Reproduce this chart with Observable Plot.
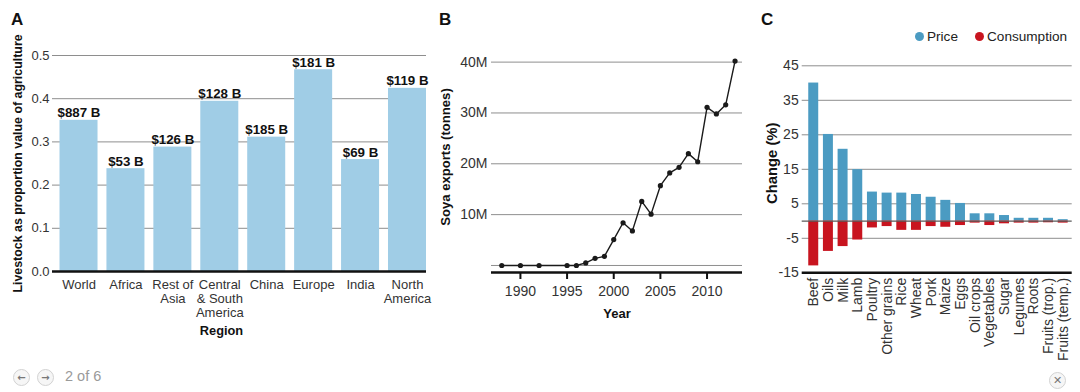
<!DOCTYPE html>
<html>
<head>
<meta charset="utf-8">
<script src="https://cdn.jsdelivr.net/npm/d3@7"></script>
<script src="https://cdn.jsdelivr.net/npm/@observablehq/plot@0.6"></script>
<style>
  html, body { margin: 0; padding: 0; background: #fff; }
  body { width: 1080px; height: 392px; overflow: hidden; position: relative;
         font-family: "Liberation Sans", Arial, sans-serif; }
  .panel { position: absolute; top: 0; }
  .panel svg { overflow: visible; }
  .letter { position: absolute; top: 10px; font: bold 17px "Liberation Sans", Arial, sans-serif; color: #111; }
  .legend { position: absolute; top: 29px; font-size: 13.6px; color: #222; white-space: nowrap; }
  .legend span.sw { display: inline-block; width: 9px; height: 9px; border-radius: 50%; margin-right: 3px; vertical-align: 0px; }
  .btn { position: absolute; width: 15px; height: 15px; border-radius: 50%; border: 1.5px solid #d2d2d2; background: #f6f6f6;
         color: #777; font: bold 10px "DejaVu Sans", sans-serif; text-align: center; line-height: 15px; }
  .pager { position: absolute; left: 65px; top: 368px; font: 14.5px "Liberation Sans", Arial, sans-serif; color: #9a9a9a; }
</style>
</head>
<body>
<div class="letter" style="left:11px">A</div>
<div class="letter" style="left:439px">B</div>
<div class="letter" style="left:761px">C</div>
<div id="chartA" class="panel" style="left:0px"></div>
<div id="chartB" class="panel" style="left:430px"></div>
<div id="chartC" class="panel" style="left:760px"></div>
<div id="legendC"></div>
<div class="btn" style="left:13px;top:369px">&#x2190;</div>
<div class="btn" style="left:37px;top:369px">&#x2192;</div>
<div class="pager">2 of 6</div>
<div class="btn" style="left:1049px;top:372px;font-size:11px">&#x2715;</div>
<script>
// ---------- Panel A data ----------
const regions = ["World", "Africa", "Rest of Asia", "Central & South America", "China", "Europe", "India", "North America"];
const regionTickLabels = ["World", "Africa", "Rest of\nAsia", "Central\n& South\nAmerica", "China", "Europe", "India", "North\nAmerica"];
const livestockShare = [0.350, 0.238, 0.288, 0.394, 0.311, 0.467, 0.259, 0.424];
const livestockValue = ["$887 B", "$53 B", "$126 B", "$128 B", "$185 B", "$181 B", "$69 B", "$119 B"];
const shareTicks = [0, 0.1, 0.2, 0.3, 0.4, 0.5];
const titleAx = "Region";
const titleAy = "Livestock as proportion value of agriculture";

// ---------- Panel B data ----------
const years = [1988, 1990, 1992, 1995, 1996, 1997, 1998, 1999, 2000, 2001, 2002, 2003, 2004, 2005, 2006, 2007, 2008, 2009, 2010, 2011, 2012, 2013];
const soyaExports = [0, 0, 0, 0, 0, 0.5e6, 1.4e6, 1.8e6, 5.1e6, 8.4e6, 6.8e6, 12.6e6, 10.1e6, 15.7e6, 18.2e6, 19.3e6, 22.0e6, 20.4e6, 31.1e6, 29.8e6, 31.6e6, 40.2e6];
const soyaGrid = [0, 10e6, 20e6, 30e6, 40e6];
const soyaTicks = [10e6, 20e6, 30e6, 40e6];
const yearTicks = [1990, 1995, 2000, 2005, 2010];
const titleBx = "Year";
const titleBy = "Soya exports (tonnes)";

// ---------- Panel C data ----------
const foods = ["Beef", "Oils", "Milk", "Lamb", "Poultry", "Other grains", "Rice", "Wheat", "Pork", "Maize", "Eggs", "Oil crops", "Vegetables", "Sugar", "Legumes", "Roots", "Fruits (trop.)", "Fruits (temp.)"];
const priceChange = [40.0, 25.1, 20.8, 14.9, 8.4, 8.1, 8.1, 7.7, 6.9, 6.0, 5.1, 2.1, 2.1, 1.6, 0.8, 0.8, 0.8, 0.4];
const consumptionChange = [-13.0, -8.8, -7.4, -5.5, -2.0, -1.6, -2.7, -2.7, -1.6, -1.8, -1.3, -0.6, -1.3, -0.8, -0.6, -0.6, -0.5, -0.6];
const changeGrid = [45, 35, 25, 15, 5, -5];
const changeTicks = [45, 35, 25, 15, 5, -5, -15];
const seriesNames = ["Price", "Consumption"];
const titleCy = "Change (%)";

// ---------- styles ----------
const FONT = '"Liberation Sans", Arial, sans-serif';
const GRID = "#8e8e8e";
const INK = "#111";
const BAR_A = "#a0cde6";
const BLUE = "#4b9bc2";
const RED = "#c8141f";

// ---------- Panel A ----------
const dataA = regions.map((r, i) => ({region: r, share: livestockShare[i], value: livestockValue[i]}));
const tickLabelOf = new Map(regions.map((r, i) => [r, regionTickLabels[i]]));
const chartA = Plot.plot({
  width: 430, height: 345,
  marginLeft: 52, marginRight: 4, marginTop: 55, marginBottom: 74,
  style: {fontFamily: FONT, fontSize: "13px", color: "#333", background: "transparent"},
  x: {domain: regions, paddingInner: 0.19, paddingOuter: 0.08, align: 1, round: false},
  y: {domain: [0, 0.5]},
  marks: [
    Plot.gridY(shareTicks.slice(1), {stroke: GRID, strokeOpacity: 1}),
    Plot.barY(dataA, {x: "region", y: "share", fill: BAR_A}),
    Plot.ruleY([0], {stroke: INK, strokeWidth: 2.5}),
    Plot.text(dataA, {x: "region", y: "share", text: "value", dy: -3, lineAnchor: "bottom", fontWeight: "bold", fontSize: 13.3, fill: INK}),
    Plot.axisY({ticks: shareTicks, tickFormat: d3.format(".1f"), tickSize: 0, tickPadding: 3, label: null}),
    Plot.axisX({tickFormat: d => tickLabelOf.get(d), tickSize: 0, tickPadding: 7, label: null, lineHeight: 1.1}),
    Plot.text([titleAx], {text: d => d, frameAnchor: "bottom", dy: 63, dx: -18, fontWeight: "bold", fontSize: 12.8, fill: INK}),
    Plot.text([titleAy], {text: d => d, frameAnchor: "left", textAnchor: "middle", rotate: -90, dx: -34, fontWeight: "bold", fontSize: 12.4, fill: INK})
  ]
});
document.getElementById("chartA").append(chartA);

// ---------- Panel B ----------
const dataB = years.map((y, i) => ({year: y, exports: soyaExports[i]}));
const yDomainB = [-1.38e6, 41.3e6];
const chartB = Plot.plot({
  width: 330, height: 345,
  marginLeft: 61, marginRight: 18, marginTop: 55, marginBottom: 73,
  style: {fontFamily: FONT, fontSize: "14px", color: "#333", background: "transparent"},
  x: {domain: [1986.9, 2013.8]},
  y: {domain: yDomainB},
  marks: [
    Plot.gridY(soyaGrid, {stroke: GRID, strokeOpacity: 1}),
    Plot.ruleY([yDomainB[0]], {stroke: INK, strokeWidth: 2.5}),
    Plot.line(dataB, {x: "year", y: "exports", stroke: "#1a1a1a", strokeWidth: 1.4}),
    Plot.dot(dataB, {x: "year", y: "exports", r: 2.6, fill: "#1a1a1a"}),
    Plot.axisY({ticks: soyaTicks, tickFormat: d => d / 1e6 + "M", tickSize: 0, tickPadding: 4, label: null}),
    Plot.axisX({ticks: yearTicks, tickFormat: d => String(d), tickSize: 7, strokeWidth: 2, stroke: INK, tickPadding: 7, label: null}),
    Plot.text([titleBx], {text: d => d, frameAnchor: "bottom", dy: 45, fontWeight: "bold", fontSize: 13, fill: INK}),
    Plot.text([titleBy], {text: d => d, frameAnchor: "left", textAnchor: "middle", rotate: -90, dx: -46, dy: -7, fontWeight: "bold", fontSize: 13.1, fill: INK})
  ]
});
document.getElementById("chartB").append(chartB);

// ---------- Panel C ----------
const dataC = foods.map((f, i) => ({food: f, price: priceChange[i], consumption: consumptionChange[i]}));
const chartC = Plot.plot({
  width: 320, height: 392,
  marginLeft: 41.7, marginRight: 8.3, marginTop: 65.3, marginBottom: 119.7,
  style: {fontFamily: FONT, fontSize: "14px", color: "#333", background: "transparent"},
  x: {domain: foods, paddingInner: 0.32, paddingOuter: 0.36, align: 0.62, round: false},
  y: {domain: [-15, 45]},
  marks: [
    Plot.gridY(changeGrid, {stroke: GRID, strokeOpacity: 1}),
    Plot.barY(dataC, {x: "food", y: "price", fill: BLUE}),
    Plot.barY(dataC, {x: "food", y: "consumption", fill: RED}),
    Plot.ruleY([0], {stroke: "#5a5a5a", strokeWidth: 1.3}),
    Plot.ruleY([changeTicks[changeTicks.length - 1]], {stroke: INK, strokeWidth: 2.5}),
    Plot.axisY({ticks: changeTicks, tickFormat: d => String(d), tickSize: 0, tickPadding: 3.5, label: null}),
    Plot.axisX({tickRotate: -90, tickSize: 0, tickPadding: 5, label: null}),
    Plot.text([titleCy], {text: d => d, frameAnchor: "left", textAnchor: "middle", rotate: -90, dx: -30, dy: -6, fontWeight: "bold", fontSize: 14.8, fill: INK})
  ]
});
document.getElementById("chartC").append(chartC);

// legend for panel C
const legendColors = [BLUE, RED];
const legendLeft = [915, 975];
document.getElementById("legendC").innerHTML = seriesNames
  .map((s, i) => `<div class="legend" style="left:${legendLeft[i]}px"><span class="sw" style="background:${legendColors[i]}"></span>${s}</div>`)
  .join("");
</script>
</body>
</html>
